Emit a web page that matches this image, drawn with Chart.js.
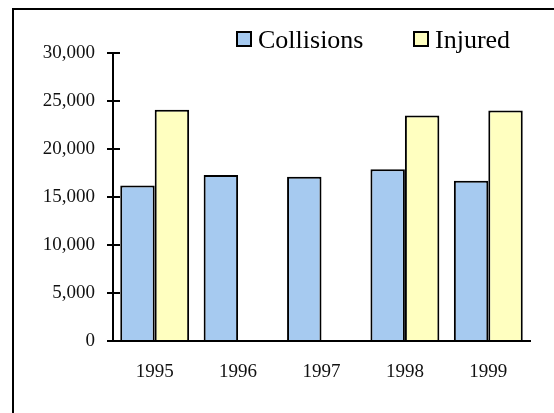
<!DOCTYPE html>
<html>
<head>
<meta charset="utf-8">
<script src="https://cdn.jsdelivr.net/npm/chart.js@4"></script>
<style>
  body { margin: 0; background: #fff; }
  canvas { display: block; }
</style>
</head>
<body>
<canvas id="grafico" width="554" height="413"></canvas>
<script>
// Datos
const years = ["1995", "1996", "1997", "1998", "1999"];
const collisions = [16200, 17300, 17100, 17900, 16700];
const injured = [24100, null, null, 23500, 24000];
const seriesNames = ["Collisions", "Injured"];
const seriesColors = ["#A6CAF0", "#FFFFC0"];
const yMax = 30000;
const yStep = 5000;

const fuente = "'Liberation Serif', 'Times New Roman', serif";

// Marco exterior (solo se ven el borde superior e izquierdo)
const marco = {
  id: "marco",
  beforeDraw(chart) {
    const ctx = chart.ctx;
    ctx.save();
    ctx.fillStyle = "#fff";
    ctx.fillRect(0, 0, chart.width, chart.height);
    ctx.strokeStyle = "#000";
    ctx.lineWidth = 2;
    ctx.beginPath();
    ctx.moveTo(13, chart.height + 2);
    ctx.lineTo(13, 9);
    ctx.lineTo(chart.width + 2, 9);
    ctx.stroke();
    ctx.restore();
  },
};

// Parte interior de las marcas del eje Y (cruzan el eje)
const marcasCruzadas = {
  id: "marcasCruzadas",
  afterDraw(chart) {
    const ctx = chart.ctx;
    const y = chart.scales.y;
    const x0 = chart.chartArea.left;
    ctx.save();
    ctx.strokeStyle = "#000";
    ctx.lineWidth = 2;
    y.ticks.forEach((t) => {
      const py = Math.round(y.getPixelForValue(t.value));
      ctx.beginPath();
      ctx.moveTo(x0, py);
      ctx.lineTo(x0 + 7, py);
      ctx.stroke();
    });
    ctx.restore();
  },
};

// Leyenda dibujada a mano para igualar la separacion caja/texto
const leyenda = {
  id: "leyenda",
  afterDraw(chart) {
    const ctx = chart.ctx;
    const posX = [236, 413];
    ctx.save();
    chart.data.datasets.forEach((ds, i) => {
      ctx.fillStyle = ds.backgroundColor;
      ctx.fillRect(posX[i], 31, 16, 16);
      ctx.strokeStyle = "#000";
      ctx.lineWidth = 2;
      ctx.strokeRect(posX[i] + 1, 32, 14, 14);
      ctx.fillStyle = "#000";
      ctx.font = "26px " + fuente;
      ctx.textBaseline = "alphabetic";
      ctx.fillText(ds.label, posX[i] + 22, 48);
    });
    ctx.restore();
  },
};

new Chart(document.getElementById("grafico"), {
  type: "bar",
  data: {
    labels: years,
    datasets: [
      {
        label: seriesNames[0],
        data: collisions,
        backgroundColor: seriesColors[0],
        borderColor: "#000",
        borderWidth: 2,
        categoryPercentage: 0.826,
        barPercentage: 1,
      },
      {
        label: seriesNames[1],
        data: injured,
        backgroundColor: seriesColors[1],
        borderColor: "#000",
        borderWidth: 2,
        categoryPercentage: 0.826,
        barPercentage: 1,
      },
    ],
  },
  options: {
    responsive: false,
    animation: false,
    layout: {
      padding: { top: 53, right: 24, left: 0, bottom: 0 },
    },
    plugins: {
      legend: { display: false },
      tooltip: { enabled: false },
    },
    scales: {
      x: {
        grid: { display: false, drawTicks: false },
        border: { display: true, color: "#000", width: 2 },
        ticks: {
          color: "#111",
          font: { family: fuente, size: 19 },
          padding: 20,
        },
        afterFit: (scale) => {
          scale.height = 72;
        },
      },
      y: {
        min: 0,
        max: yMax,
        grid: {
          drawOnChartArea: false,
          drawTicks: true,
          tickLength: 6,
          color: "#000",
          lineWidth: 2,
        },
        border: { display: true, color: "#000", width: 2 },
        ticks: {
          stepSize: yStep,
          color: "#111",
          font: { family: fuente, size: 19 },
          padding: 12,
          callback: (v) => v.toLocaleString("en-US"),
        },
        afterFit: (scale) => {
          scale.width = 113;
        },
      },
    },
  },
  plugins: [marco, marcasCruzadas, leyenda],
});
</script>
</body>
</html>
